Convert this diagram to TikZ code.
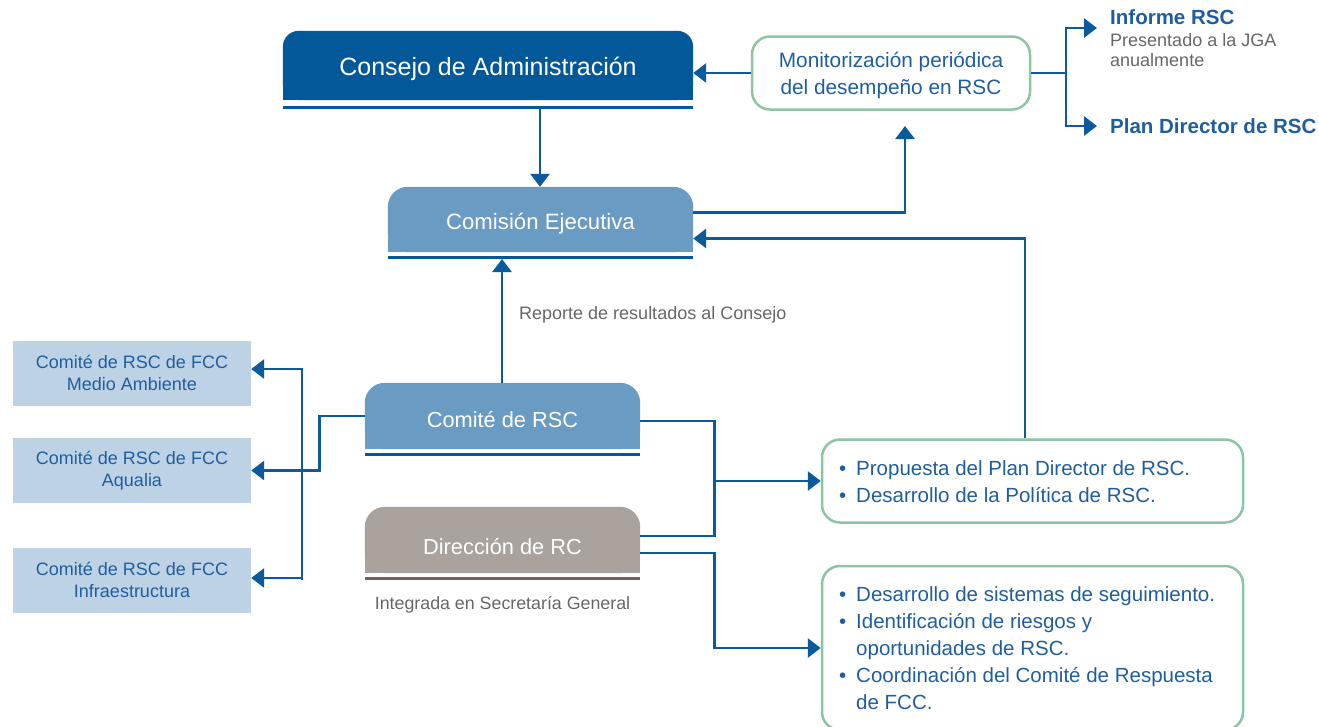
\documentclass[tikz,border=0pt]{standalone}
\usepackage{fontspec}
\setmainfont{Liberation Sans}
\usetikzlibrary{arrows.meta,calc,backgrounds}
\definecolor{dblue}{HTML}{03589A}
\definecolor{mblue}{HTML}{6A9BC3}
\definecolor{lblue}{HTML}{BDD3E5}
\definecolor{grayb}{HTML}{A9A29D}
\definecolor{grayl}{HTML}{6F645D}
\definecolor{lgreen}{HTML}{8CC4A4}
\definecolor{tblue}{HTML}{1F5E9E}
\definecolor{tgray}{HTML}{666666}
\definecolor{lcol}{HTML}{0A5A9C}
\newcommand\bul{\makebox[17pt][l]{•}}
\newcommand\ind{\hspace*{17pt}}
\tikzset{
  conn/.style={draw=lcol,line width=2.8pt},
  arr/.style={conn,-{Triangle[length=13pt,width=19pt]}},
  topbox/.style={minimum width=#1,inner sep=0pt},
  wtext/.style={text=white,inner sep=0pt},
  greenbox/.style={draw=lgreen,line width=2.5pt,rounded corners=18pt,inner sep=0pt},
  lbox/.style={fill=lblue,minimum width=238pt,minimum height=65pt,inner sep=0pt,text=tblue,align=center,
    font=\fontsize{18}{22}\selectfont},
  gtext/.style={text=tgray,inner sep=0pt,font=\fontsize{18}{20}\selectfont}
}
\begin{document}
\begin{tikzpicture}[x=1pt,y=-1pt]
\useasboundingbox (0,0) rectangle (1319,726);

% Consejo de Administracion
\node[topbox=410pt,minimum height=69pt] (cons) at (488,65.5) {};
\fill[dblue,rounded corners=16pt] (cons.south west) rectangle (cons.north east);
\fill[dblue] (cons.south west) rectangle (cons.east);
\node[wtext,font=\fontsize{25}{28}\selectfont] (const) at (488,69) {Consejo de Administración};
\draw[dblue,line width=3pt] ($(cons.south west)+(0,7.5)$) -- ($(cons.south east)+(0,7.5)$);

% Comision Ejecutiva
\node[topbox=305pt,minimum height=65pt] (comi) at (540.5,219.5) {};
\fill[mblue,rounded corners=20pt] (comi.south west) rectangle (comi.north east);
\fill[mblue] (comi.south west) rectangle (comi.east);
\node[wtext,font=\fontsize{22.2}{26}\selectfont] (comit) at (540.5,223.5) {Comisión Ejecutiva};
\draw[dblue,line width=3pt] ($(comi.south west)+(0,5.5)$) -- ($(comi.south east)+(0,5.5)$);

% Comite de RSC
\node[topbox=275pt,minimum height=66pt] (crsc) at (502.5,416) {};
\fill[mblue,rounded corners=20pt] (crsc.south west) rectangle (crsc.north east);
\fill[mblue] (crsc.south west) rectangle (crsc.east);
\node[wtext,font=\fontsize{21.8}{26}\selectfont] (crsct) at (502.5,419.5) {Comité de RSC};
\draw[dblue,line width=3pt] ($(crsc.south west)+(0,5.5)$) -- ($(crsc.south east)+(0,5.5)$);

% Direccion de RC
\node[topbox=275pt,minimum height=66pt] (dir) at (502.5,540) {};
\fill[grayb,rounded corners=20pt] (dir.south west) rectangle (dir.north east);
\fill[grayb] (dir.south west) rectangle (dir.east);
\node[wtext,font=\fontsize{21.8}{26}\selectfont] (dirt) at (502.5,547) {Dirección de RC};
\draw[grayl,line width=3pt] ($(dir.south west)+(0,5.5)$) -- ($(dir.south east)+(0,5.5)$);
\node[gtext,font=\fontsize{17.8}{20}\selectfont] (integ) at (502.5,605) {Integrada en Secretaría General};

% Monitorizacion
\node[greenbox,minimum width=278pt,minimum height=73pt] (mon) at (891,73) {};
\node[text=tblue,align=center,inner sep=0pt,font=\fontsize{20.8}{27}\selectfont] (mont) at (891,75.5) {Monitorización periódica\\del desempeño en RSC};

% Informe / Plan
\node[anchor=west,inner sep=0pt,text=tblue,font=\bfseries\fontsize{20.5}{22}\selectfont] (inf) at (1110,17) {Informe RSC};
\node[anchor=north west,inner sep=0pt,text=tgray,align=left,font=\fontsize{18}{20}\selectfont] (pres) at (1110,33) {Presentado a la JGA\\anualmente};
\node[anchor=west,inner sep=0pt,text=tblue,font=\bfseries\fontsize{20.5}{22}\selectfont] (plan) at (1110,126) {Plan Director de RSC};

% Left boxes
\node[lbox] (ma) at (132,373) {Comité de RSC de FCC\\Medio Ambiente};
\node[lbox] (aq) at (132,470.5) {Comité de RSC de FCC\\Aqualia};
\node[lbox] (infra) at (132,580) {Comité de RSC de FCC\\Infraestructura};

% Green boxes right
\node[greenbox,minimum width=421pt,minimum height=83pt] (prop) at (1032.5,481) {};
\node[anchor=west,inner sep=0pt,text=tblue,align=left,font=\fontsize{20.5}{27}\selectfont] (propt) at (839,482)
  {\bul Propuesta del Plan Director de RSC.\\\bul Desarrollo de la Política de RSC.};
\node[greenbox,minimum width=421pt,minimum height=164pt] (des) at (1032.5,648) {};
\node[anchor=west,inner sep=0pt,text=tblue,align=left,font=\fontsize{20.5}{27}\selectfont] (dest) at (839,648)
  {\bul Desarrollo de sistemas de seguimiento.\\\bul Identificación de riesgos y\\\ind oportunidades de RSC.\\\bul Coordinación del Comité de Respuesta\\\ind de FCC.};

% Label
\node[gtext,anchor=west] (rep) at (519,315) {Reporte de resultados al Consejo};

% Coordinates
\coordinate (cl) at (540,108);
\coordinate (br) at (1066,73);
\coordinate (infT) at (1097,28);
\coordinate (planT) at (1097,126);
\coordinate (monT) at (905,126);
\coordinate (px) at (1025,0);
\coordinate (bx) at (714,0);
\coordinate (vx) at (302,0);
\coordinate (ecl) at (502,259);

% Connectors
\draw[arr] (cl) -- (cl |- comi.north);
\draw[arr] (mon.west) -- (mon.west -| cons.east);
\draw[conn] (mon.east) -- (br);
\draw[arr] (br) |- (infT);
\draw[arr] (br) |- (planT);
\draw[arr] ([yshift=7pt]comi.east) -| (monT);
\draw[arr] (prop.north -| px) |- ([yshift=-19pt]comi.east);
\draw[arr] (crsc.north -| ecl) -- (ecl);
\draw[conn] ([yshift=-5pt]crsc.east) -- ++(74,0) |- ([yshift=4pt]dir.east);
\draw[arr] (prop.west -| bx) -- (prop.west);
\draw[arr] ([yshift=-13pt]dir.east) -- ++(74,0) |- (des.west);
\draw[arr] (crsc.west) -- ++(-45,0) |- (aq.east);
\draw[arr] (infra.east -| vx) |- ([yshift=4pt]ma.east);
\draw[arr] (ma.east -| vx) ++(0,-4) |- ([yshift=2pt]infra.east);
\end{tikzpicture}
\end{document}
